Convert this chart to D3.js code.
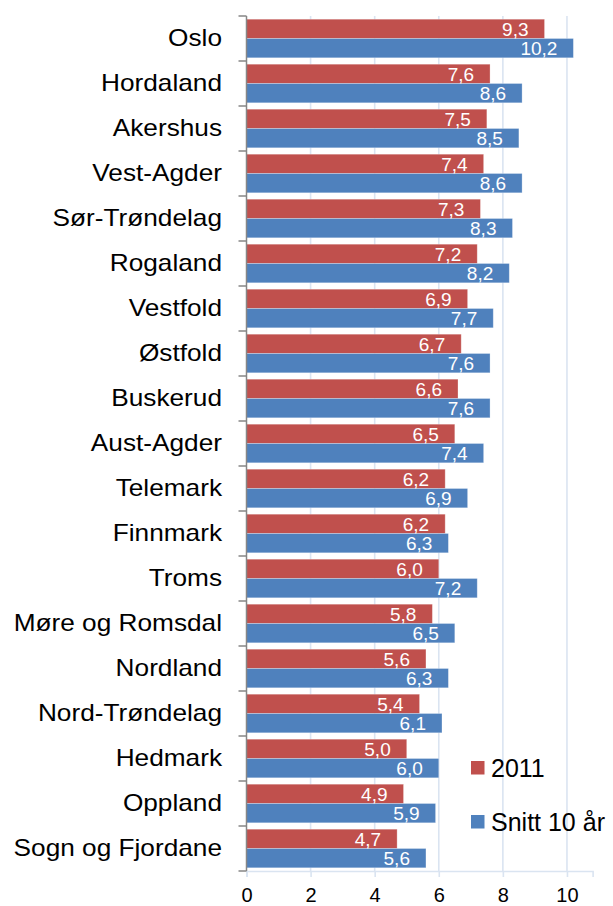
<!DOCTYPE html>
<html>
<head>
<meta charset="utf-8">
<script src="https://cdn.jsdelivr.net/npm/d3@7"></script>
<style>
  html, body { margin: 0; padding: 0; background: #fff; }
  svg { display: block; font-family: "Liberation Sans", Arial, sans-serif; }
</style>
</head>
<body>
<svg id="chart" width="613" height="906"></svg>
<script>
// Fylker, sortert etter 2011-verdi
const categories = [
  "Oslo", "Hordaland", "Akershus", "Vest-Agder", "Sør-Trøndelag", "Rogaland",
  "Vestfold", "Østfold", "Buskerud", "Aust-Agder", "Telemark", "Finnmark",
  "Troms", "Møre og Romsdal", "Nordland", "Nord-Trøndelag", "Hedmark",
  "Oppland", "Sogn og Fjordane"
];
const values2011 = [9.3, 7.6, 7.5, 7.4, 7.3, 7.2, 6.9, 6.7, 6.6, 6.5, 6.2, 6.2, 6.0, 5.8, 5.6, 5.4, 5.0, 4.9, 4.7];
const valuesSnitt = [10.2, 8.6, 8.5, 8.6, 8.3, 8.2, 7.7, 7.6, 7.6, 7.4, 6.9, 6.3, 7.2, 6.5, 6.3, 6.1, 6.0, 5.9, 5.6];
const seriesNames = ["2011", "Snitt 10 år"];
const seriesColors = ["#C0504D", "#4F81BD"];
const xTicks = [0, 2, 4, 6, 8, 10];

const svg = d3.select("#chart");
const plot = { left: 246.5, right: 592.6, top: 16, bottom: 871 };

const x = d3.scaleLinear().domain([0, 10.8]).range([plot.left, plot.right]);
const y = d3.scaleBand().domain(categories).range([plot.top, plot.bottom]).padding(0);
const ySeries = d3.scaleBand().domain(seriesNames).range([3.2, y.bandwidth() - 3.2]).padding(0);

const rows = categories.map((c, i) => ({ cat: c, vals: [values2011[i], valuesSnitt[i]] }));
const fmt = v => d3.format(".1f")(v).replace(".", ",");

// Gridlines
svg.append("g").selectAll("line")
  .data(xTicks.filter(t => t > 0))
  .join("line")
  .attr("x1", d => x(d)).attr("x2", d => x(d))
  .attr("y1", plot.top).attr("y2", plot.bottom)
  .attr("stroke", "#DAE4F1").attr("stroke-width", 1.6);

// X axis
const xAxis = svg.append("g")
  .attr("transform", `translate(0,${plot.bottom})`)
  .call(d3.axisBottom(x).tickValues(xTicks).tickSize(6).tickFormat(d3.format("d")));
xAxis.select(".domain").attr("stroke", "#DAE4F1").attr("stroke-width", 1.6);
xAxis.selectAll(".tick line").attr("stroke", "#DAE4F1").attr("stroke-width", 1.6);
xAxis.selectAll(".tick text")
  .attr("y", 0).attr("dy", null)
  .attr("transform", "translate(0,31)")
  .attr("fill", "#000")
  .style("font-size", "20px");

// Bars
const groups = svg.append("g").selectAll("g")
  .data(rows)
  .join("g")
  .attr("transform", d => `translate(0,${y(d.cat)})`);

groups.selectAll("rect")
  .data(d => d.vals.map((v, k) => ({ v, k })))
  .join("rect")
  .attr("x", x(0))
  .attr("y", d => ySeries(seriesNames[d.k]))
  .attr("width", d => x(d.v) - x(0))
  .attr("height", ySeries.bandwidth())
  .attr("fill", d => seriesColors[d.k])
  .attr("stroke", "rgba(255,255,255,0.35)")
  .attr("stroke-width", 0.8);

groups.selectAll("text")
  .data(d => d.vals.map((v, k) => ({ v, k })))
  .join("text")
  .attr("x", d => x(d.v) - 16)
  .attr("y", d => ySeries(seriesNames[d.k]) + ySeries.bandwidth() / 2 + 6.8)
  .attr("text-anchor", "end")
  .attr("fill", "#fff")
  .style("font-size", "19px")
  .text(d => fmt(d.v));

// Y axis line and category-boundary ticks
const yAxis = svg.append("g").attr("stroke", "#868686").attr("stroke-width", 1.5);
yAxis.append("line")
  .attr("x1", plot.left).attr("x2", plot.left)
  .attr("y1", plot.top).attr("y2", plot.bottom);
const bounds = categories.map(c => y(c)).concat([plot.bottom]);
yAxis.selectAll("line.tk")
  .data(bounds)
  .join("line")
  .attr("class", "tk")
  .attr("x1", plot.left - 8).attr("x2", plot.left)
  .attr("y1", d => d).attr("y2", d => d);

// Category labels
svg.append("g").selectAll("text")
  .data(categories)
  .join("text")
  .attr("transform", d => `translate(222,${y(d) + y.bandwidth() / 2 + 7}) scale(1.14,1)`)
  .attr("text-anchor", "end")
  .attr("fill", "#000")
  .style("font-size", "23px")
  .text(d => d);

// Legend
const legend = svg.append("g").attr("transform", "translate(471,761)");
const items = legend.selectAll("g")
  .data(seriesNames)
  .join("g")
  .attr("transform", (d, i) => `translate(0,${i * 54})`);
items.append("rect")
  .attr("width", 13.5).attr("height", 13.5)
  .attr("fill", (d, i) => seriesColors[i]);
items.append("text")
  .attr("x", 20).attr("y", 16)
  .attr("fill", "#000")
  .style("font-size", "25px")
  .text(d => d);
</script>
</body>
</html>
